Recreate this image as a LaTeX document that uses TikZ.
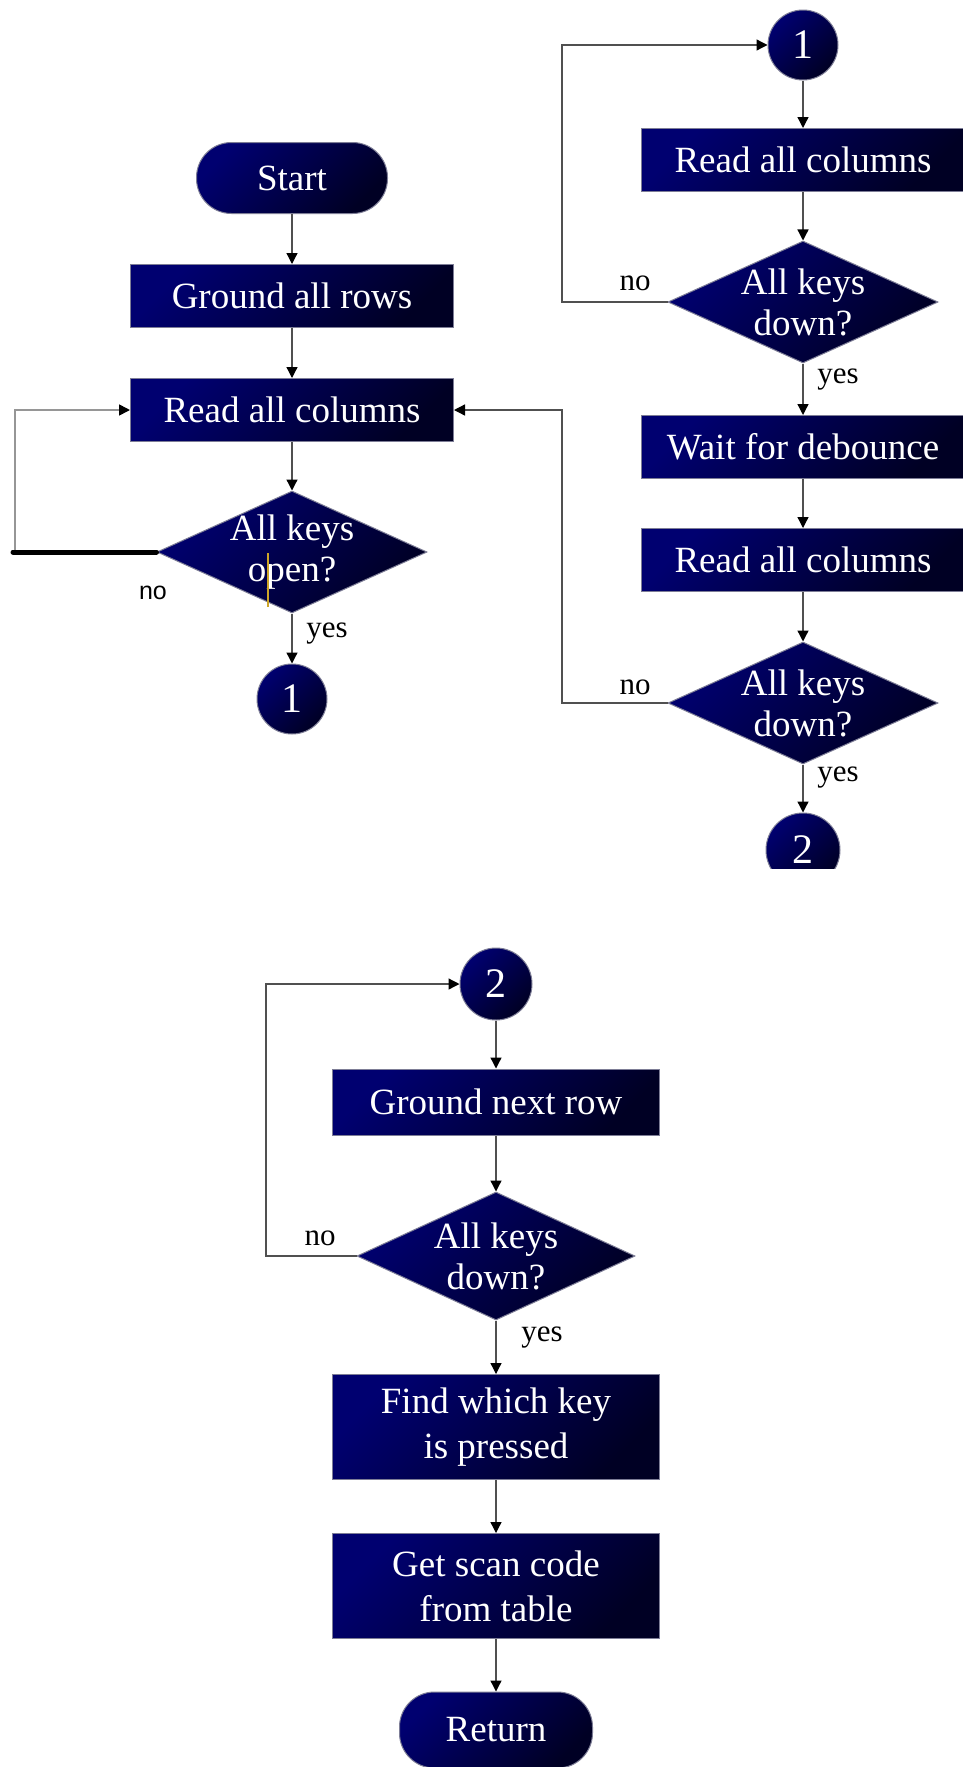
\documentclass[tikz,border=0pt]{standalone}
\usepackage{fontspec}
\setmainfont{Liberation Serif}
\newfontfamily\labsans{Liberation Sans}
\usetikzlibrary{shapes.geometric,arrows.meta}
\definecolor{navyL}{RGB}{0,0,112}
\definecolor{navyD}{RGB}{0,0,36}
\definecolor{edgeC}{RGB}{125,125,150}
\definecolor{lineC}{RGB}{80,80,80}
\definecolor{loopC}{RGB}{150,150,150}
\definecolor{caretC}{RGB}{205,165,40}
\tikzset{
  fillnav/.style={shade, top color=navyL, bottom color=navyD, shading angle=45,
    draw=edgeC, line width=1pt, text=white, inner sep=0pt},
  procbox/.style={fillnav, rectangle, minimum width=323pt, minimum height=63pt,
    align=center, font=\fontsize{37}{45}\selectfont},
  termbox/.style={fillnav, rectangle, rounded corners=35pt, minimum width=191pt,
    minimum height=71pt, font=\fontsize{37}{45}\selectfont},
  decbox/.style={fillnav, diamond, minimum width=270pt, minimum height=122pt},
  dectext/.style={text=white, align=center, inner sep=0pt, font=\fontsize{37}{41}\selectfont},
  connbox/.style={fillnav, circle, minimum size=70pt, font=\fontsize{42}{42}\selectfont},
  flow/.style={draw=lineC, line width=1.3pt, -{Triangle[length=11pt,width=11pt,color=black]}},
  flowlight/.style={draw=loopC, line width=1.6pt, -{Triangle[length=11pt,width=11pt,color=black]}},
  lab/.style={text=black, inner sep=0pt, font=\fontsize{31}{31}\selectfont},
  labsf/.style={text=black, inner sep=0pt, font=\labsans\fontsize{25}{25}\selectfont}
}
\begin{document}
\begin{tikzpicture}[x=1pt,y=-1pt]
\fill[white] (0,0) rectangle (963,1767);
\useasboundingbox (0,0) rectangle (963,1767);

% ---------- left column ----------
\node[termbox] (start) at (292,178) {Start};
\node[procbox] (g1) at (292,296) {Ground all rows};
\node[procbox] (r1) at (292,410) {Read all columns};
\node[decbox] (d1) at (292,552) {};
\node[dectext] (d1t) at (292,552) {All keys\\open?};
\node[connbox] (c1L) at (292,699) {1};
\node[labsf] (no1) at (153,593) {no};
\node[lab] (yes1) at (327,634) {yes};
\draw[caretC, line width=1.3pt] (268,553) -- (268,607);

\draw[flow] (start) -- (g1);
\draw[flow] (g1) -- (r1);
\draw[flow] (r1) -- (d1);
\draw[flow] (d1) -- (c1L);
\coordinate (lc) at (13,552);
\coordinate (lc2) at (15,552);
\draw[flowlight] (lc2) |- (r1.west);
\draw[black, line width=5pt, line cap=round] (d1.west) -- (lc);

% ---------- right column ----------
\node[connbox] (c1R) at (803,45) {1};
\node[procbox] (r2) at (803,160) {Read all columns};
\node[decbox] (d2) at (803,302) {};
\node[dectext] (d2t) at (803,302) {All keys\\down?};
\node[procbox] (w) at (803,447) {Wait for debounce};
\node[procbox] (r3) at (803,560) {Read all columns};
\node[decbox] (d3) at (803,703) {};
\node[dectext] (d3t) at (803,703) {All keys\\down?};
\begin{scope}
  \clip (0,0) rectangle (963,868);
  \node[connbox, minimum size=74pt] (c2R) at (803,850) {2};
\end{scope}
\node[lab] (no2) at (635,283) {no};
\node[lab] (yes2) at (838,380) {yes};
\node[lab] (no3) at (635,687) {no};
\node[lab] (yes3) at (838,778) {yes};

\draw[flow] (c1R) -- (r2);
\draw[flow] (r2) -- (d2);
\draw[flow] (d2) -- (w);
\draw[flow] (w) -- (r3);
\draw[flow] (r3) -- (d3);
\draw[flow] (d3) -- (c2R.north);
\coordinate (rl1) at (562,302);
\coordinate (rl2) at (562,703);
\draw[flow] (d2.west) -- (rl1) |- (c1R.west);
\draw[flow] (d3.west) -- (rl2) |- (r1.east);

% ---------- bottom column ----------
\node[connbox, minimum size=72pt] (c2B) at (496,984) {2};
\node[procbox, minimum width=327pt, minimum height=66pt] (gn) at (496,1102) {Ground next row};
\node[decbox, minimum width=278pt, minimum height=128pt] (d4) at (496,1256) {};
\node[dectext] (d4t) at (496,1256) {All keys\\down?};
\node[procbox, minimum width=327pt, minimum height=105pt] (fk) at (496,1427) {Find which key\\is pressed};
\node[procbox, minimum width=327pt, minimum height=105pt] (gs) at (496,1586) {Get scan code\\from table};
\node[termbox, minimum width=193pt, minimum height=76pt] (ret) at (496,1730) {Return};
\node[lab] (no4) at (320,1238) {no};
\node[lab] (yes4) at (542,1338) {yes};

\draw[flow] (c2B) -- (gn);
\draw[flow] (gn) -- (d4);
\draw[flow] (d4) -- (fk);
\draw[flow] (fk) -- (gs);
\draw[flow] (gs) -- (ret);
\coordinate (bl) at (266,1256);
\draw[flow] (d4.west) -- (bl) |- (c2B.west);
\end{tikzpicture}
\end{document}
